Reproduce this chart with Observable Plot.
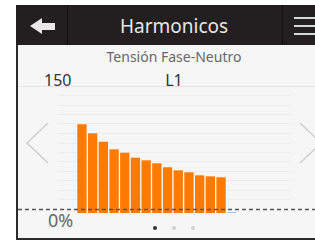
<!DOCTYPE html>
<html>
<head>
<meta charset="utf-8">
<script src="https://cdn.jsdelivr.net/npm/d3@7"></script>
<script src="https://cdn.jsdelivr.net/npm/@observablehq/plot@0.6"></script>
<style>
  html, body { margin: 0; padding: 0; background: #fff; }
  #root { position: relative; width: 315px; height: 244px; overflow: hidden; font-family: "Noto Sans", "Open Sans", sans-serif; }
  .panel { position: absolute; left: 16px; top: 5px; width: 310px; height: 233px; background: #f6f6f6; border-left: 2px solid #2b2b2b; border-bottom: 2px solid #2b2b2b; }
  .header { position: absolute; left: 16px; top: 5px; width: 310px; height: 40px; background: #231f20; }
  .sep { position: absolute; top: 5px; width: 1px; height: 40px; background: #0e0c0c; }
  .title { position: absolute; left: 0; width: 348px; top: 13px; text-align: center; color: #e6e6e6; font-size: 19px; }
  .ham { position: absolute; left: 294px; width: 24px; height: 2px; background: #d8d8d8; }
  .txt { position: absolute; white-space: nowrap; }
  #chart { position: absolute; left: 0; top: 0; }
</style>
</head>
<body>
<div id="root">
  <div class="panel"></div>
  <div class="header"></div>
  <div class="sep" style="left:67px"></div>
  <div class="sep" style="left:282px"></div>
  <svg style="position:absolute;left:0;top:0" width="315" height="50">
    <polygon points="30,26 42,18 42,23 55,23 55,30 42,30 42,34" fill="#e8e8e8"/>
  </svg>
  <div class="ham" style="top:17px"></div>
  <div class="ham" style="top:25px"></div>
  <div class="ham" style="top:33px"></div>
  <div class="title" id="title"></div>
  <div class="txt" id="subtitle" style="left:0;width:348px;text-align:center;top:47px;font-size:14px;color:#666"></div>
  <div class="txt" id="ymax" style="left:44px;top:69px;font-size:16px;color:#333"></div>
  <div class="txt" id="phase" style="left:0;width:348px;text-align:center;top:69px;font-size:16px;color:#333"></div>
  <div class="txt" id="ymin" style="left:48px;top:208px;font-size:18px;color:#666"></div>
  <div id="chart"></div>
</div>
<script>
const titleText = "Harmonicos";
const subtitleText = "Tensión Fase-Neutro";
const phaseLabel = "L1";
const yMaxLabel = "150";
const yMinLabel = "0%";

// harmonic orders and their levels (on a 0..150 scale)
const orders = [1, 2, 3, 4, 5, 6, 7, 8, 9, 10, 11, 12, 13, 14, 15];
const levels = [104.8, 94.1, 84.2, 75.2, 71.2, 65.3, 62.2, 58.7, 54.0, 50.4, 48.1, 44.5, 43.3, 42.2, 1.0];
const barColors = ["#ff7a00", "#ff7a00", "#ff7a00", "#ff7a00", "#ff7a00", "#ff7a00", "#ff7a00", "#ff7a00", "#ff7a00", "#ff7a00", "#ff7a00", "#ff7a00", "#ff7a00", "#ff7a00", "#8cc2ea"];
const gridLevels = [16.5, 27.2, 39, 49.6, 61.4, 72, 82.7, 94.5, 106.3, 116.9, 127.6, 139.4];
const topLevel = 150;
const refLevel = 4.7;
const pageDots = [1, 2, 3];
const activePage = 1;

document.getElementById("title").textContent = titleText;
document.getElementById("subtitle").textContent = subtitleText;
document.getElementById("phase").textContent = phaseLabel;
document.getElementById("ymax").textContent = yMaxLabel;
document.getElementById("ymin").textContent = yMinLabel;

const data = orders.map((h, i) => ({h, v: levels[i], c: barColors[i]}));

const chart = Plot.plot({
  width: 315,
  height: 244,
  marginLeft: 18,
  marginRight: 0,
  marginTop: 86,
  marginBottom: 31,
  style: {background: "transparent", overflow: "visible"},
  x: {type: "linear", domain: [-4.477, 23.28], axis: null},
  y: {domain: [0, 150], axis: null},
  marks: [
    Plot.ruleY(gridLevels, {x1: -0.74, x2: 20.94, stroke: "#ececec", strokeWidth: 1}),
    Plot.ruleY([topLevel], {stroke: "#e4e4e4", strokeWidth: 1}),
    Plot.rectY(data, {x1: "h", x2: d => d.h + 1, y1: 0, y2: "v", fill: "c", insetLeft: 0.7, insetRight: 0.7}),
    Plot.ruleY([refLevel], {stroke: "#555", strokeWidth: 1.4, strokeDasharray: "4,3"})
  ]
});
document.getElementById("chart").appendChild(chart);

// chevrons and page dots in an overlay
const svg = d3.select("#root").append("svg")
  .attr("width", 315).attr("height", 244)
  .style("position", "absolute").style("left", 0).style("top", 0);
svg.append("polyline").attr("points", "48,123 27,143 48,163").attr("fill", "none").attr("stroke", "#cfcfcf").attr("stroke-width", 1.5);
svg.append("polyline").attr("points", "300,123 321,143 300,163").attr("fill", "none").attr("stroke", "#cfcfcf").attr("stroke-width", 1.5);
const dotX = d3.scalePoint().domain(pageDots).range([155, 193]);
svg.selectAll("circle").data(pageDots).join("circle")
  .attr("cx", d => dotX(d)).attr("cy", 228).attr("r", 2)
  .attr("fill", d => d === activePage ? "#333" : "#d0d0d0");
</script>
</body>
</html>
